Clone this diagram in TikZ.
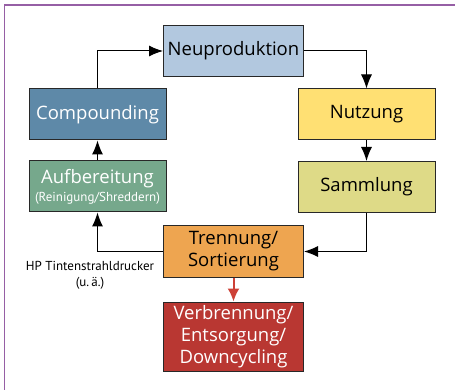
\documentclass[tikz,border=0pt]{standalone}
\usepackage{fontspec}
\setmainfont{Open Sans}
\newfontfamily\narrowfont{PT Sans}
\usetikzlibrary{positioning, arrows.meta}
\definecolor{framepurple}{RGB}{150,95,165}
\definecolor{boxline}{RGB}{40,40,40}
\definecolor{neublue}{RGB}{178,200,223}
\definecolor{compblue}{RGB}{94,137,168}
\definecolor{nutzyellow}{RGB}{255,224,115}
\definecolor{sammolive}{RGB}{222,218,135}
\definecolor{aufgreen}{RGB}{118,168,140}
\definecolor{trenorange}{RGB}{238,165,80}
\definecolor{verbred}{RGB}{185,55,50}
\definecolor{arrowred}{RGB}{205,65,55}
\tikzset{
  stage/.style={
    draw=boxline, line width=1pt, text=black,
    font=\fontsize{18.5}{21}\selectfont,
    minimum width=140pt, minimum height=51pt,
    align=center, inner sep=3pt
  },
  stagelight/.style={stage, text=white},
  flow/.style={-{Latex[length=14pt, width=11pt]}, line width=1pt, black},
  flowred/.style={-{Latex[length=13pt, width=12pt]}, line width=2pt, arrowred}
}

\begin{document}
\begin{tikzpicture}[x=1pt, y=-1pt]
  \useasboundingbox (0,0) rectangle (455,390);
  \draw[framepurple, line width=1.6pt] (4.5,390) -- (4.5,5) -- (455,5);

  \node[stage, fill=neublue] (neu) at (233.5,51) {Neuproduktion};
  \node[stagelight, fill=compblue, minimum width=137pt] (comp) at (97.5,114.5) {Compounding};
  \node[stage, fill=nutzyellow, minimum width=137pt] (nutz) at (366.5,114.5) {Nutzung};
  \node[stagelight, fill=aufgreen, minimum width=137pt, align=center] (auf) at (97.5,186.5)
    {Aufbereitung\\[-3pt]{\narrowfont\fontsize{13}{15}\selectfont (Reinigung/Shreddern)}};
  \node[stage, fill=sammolive, minimum width=137pt] (samm) at (366.5,187) {Sammlung};
  \node[stage, fill=trenorange, font=\fontsize{18.5}{22}\selectfont] (tren) at (233.5,251.5) {Trennung/\\Sortierung};
  \node[stagelight, fill=verbred, minimum height=69pt, font=\fontsize{18.5}{22}\selectfont] (verb) at (233.5,336.5)
    {Verbrennung/\\Entsorgung/\\Downcycling};
  \node[font=\narrowfont\fontsize{13}{16}\selectfont, align=center] (hp) at (90,275) {HP Tintenstrahldrucker\\(u.\,ä.)};

  \draw[flow] (comp.north) |- (neu.west);
  \draw[flow] (neu.east) -| (nutz.north);
  \draw[flow] (nutz.south) -- (samm.north);
  \draw[flow] (samm.south) |- (tren.east);
  \draw[flow] (tren.west) -| (auf.south);
  \draw[flow] (auf.north) -- (comp.south);
  \draw[flowred] (tren.south) -- (verb.north);
\end{tikzpicture}
\end{document}
